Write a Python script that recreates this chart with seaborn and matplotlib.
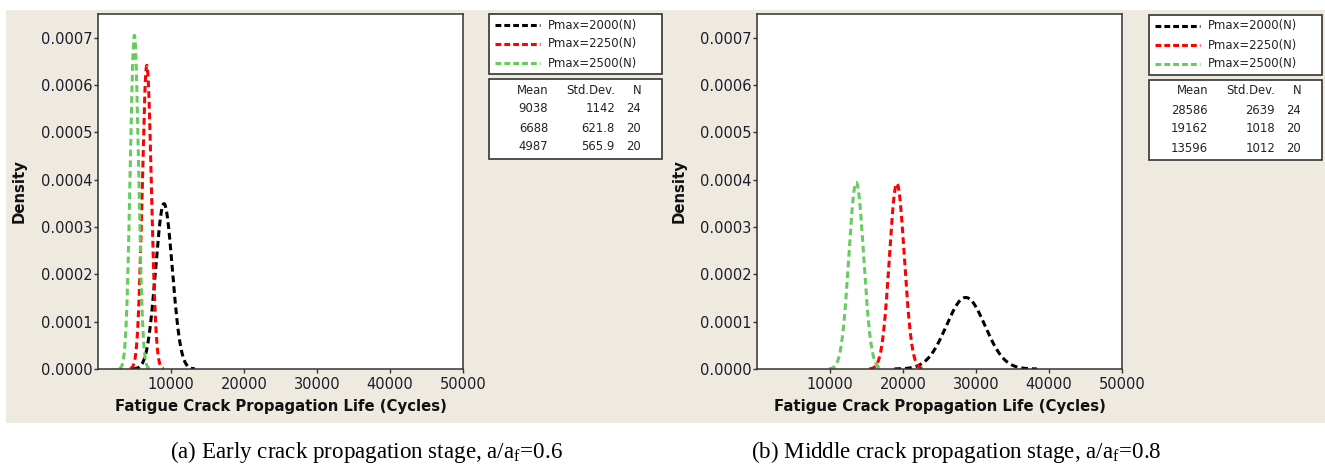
import numpy as np
import pandas as pd
import matplotlib
matplotlib.use("Agg")
import matplotlib.pyplot as plt
from matplotlib.patches import Rectangle
from matplotlib.lines import Line2D
import seaborn as sns

# 데이터
labels = ["Pmax=2000(N)", "Pmax=2250(N)", "Pmax=2500(N)"]
colors = ["#000000", "#ff0000", "#66cc5c"]

mean_a = [9038, 6688, 4987]
std_a = [1142, 621.8, 565.9]
n_a = [24, 20, 20]

mean_b = [28586, 19162, 13596]
std_b = [2639, 1018, 1012]
n_b = [24, 20, 20]

yticks = [0.0000, 0.0001, 0.0002, 0.0003, 0.0004, 0.0005, 0.0006, 0.0007]
xticks = [10000, 20000, 30000, 40000, 50000]

captions = ["(a) Early crack propagation stage, a/a$_{\\mathrm{f}}$=0.6",
            "(b) Middle crack propagation stage, a/a$_{\\mathrm{f}}$=0.8"]

sns.set_style("white")
plt.rcParams["font.family"] = ["DejaVu Sans"]
plt.rcParams["mathtext.fontset"] = "custom"
plt.rcParams["mathtext.rm"] = "Liberation Serif"

W, H = 1325, 467
fig = plt.figure(figsize=(W / 100, H / 100), dpi=100)
fig.patch.set_facecolor("white")


def fx(x):
    return x / W


def fy(y):
    return 1 - y / H


# 베이지 배경
fig.add_artist(Rectangle((fx(6), fy(423)), fx(1325) - fx(6), fy(10) - fy(423),
                         transform=fig.transFigure, facecolor="#eeeae0",
                         edgecolor="none", zorder=-1))


def normal_df(means, stds):
    # 정규분포 적합 곡선 (Minitab 스타일)
    rows = []
    for lab, m, s in zip(labels, means, stds):
        x = np.linspace(m - 3.7 * s, m + 3.7 * s, 200)
        d = np.exp(-0.5 * ((x - m) / s) ** 2) / (s * np.sqrt(2 * np.pi))
        rows.append(pd.DataFrame({"x": x, "density": d, "load": lab}))
    return pd.concat(rows, ignore_index=True)


def panel(left_px, means, stds, ns, legend_px, ylab_x, caption, cap_x):
    ax = fig.add_axes([fx(left_px), fy(369), 365 / W, 355 / H])
    ax.set_facecolor("white")
    df = normal_df(means, stds)
    sns.lineplot(data=df, x="x", y="density", hue="load", palette=colors,
                 ax=ax, legend=False, linewidth=2.2, sort=False)
    for ln in ax.get_lines():
        ln.set_dashes((2.2, 1.3))
    ax.set_xlim(0, 50000)
    ax.set_ylim(0, 0.00075)
    ax.set_xticks(xticks)
    ax.set_yticks(yticks)
    ax.set_yticklabels([f"{v:.4f}" for v in yticks])
    ax.tick_params(axis="both", which="both", direction="out", length=3,
                   width=1, color="#333333", labelsize=10.5,
                   labelcolor="#1c1c2c", left=True, bottom=True)
    ax.tick_params(axis="y", pad=1)
    ax.tick_params(axis="x", pad=3)
    for sp in ax.spines.values():
        sp.set_color("#333333")
        sp.set_linewidth(1.1)
    ax.set_xlabel("")
    ax.set_ylabel("")
    fig.text(fx((left_px + left_px + 365) / 2), fy(407),
             "Fatigue Crack Propagation Life (Cycles)", ha="center",
             va="center", fontsize=10.7, fontweight="bold", color="#111111")
    fig.text(fx(ylab_x), fy(191), "Density", rotation=90, ha="center",
             va="center", fontsize=10.7, fontweight="bold", color="#111111")

    # 범례 상자
    bx, by0, by1 = legend_px
    fig.add_artist(Rectangle((fx(bx), fy(by0 + 60)), 173 / W, 60 / H,
                             transform=fig.transFigure, facecolor="white",
                             edgecolor="#333333", linewidth=1.2, zorder=2))
    for i, (lab, c) in enumerate(zip(labels, colors)):
        yy = by0 + 11 + 19 * i
        fig.add_artist(Line2D([fx(bx + 6), fx(bx + 51)], [fy(yy), fy(yy)],
                              transform=fig.transFigure, color=c,
                              linewidth=2.2, dashes=(1.9, 1.0), zorder=3))
        fig.text(fx(bx + 59), fy(yy), lab, ha="left", va="center",
                 fontsize=8.4, color="#222222", zorder=3)

    # 통계 표
    fig.add_artist(Rectangle((fx(bx), fy(by1 + 80)), 173 / W, 80 / H,
                             transform=fig.transFigure, facecolor="white",
                             edgecolor="#333333", linewidth=1.2, zorder=2))
    cols = [59, 126, 152]
    ty = by1 + 11
    for cx, head in zip(cols, ["Mean", "Std.Dev.", "N"]):
        fig.text(fx(bx + cx), fy(ty), head, ha="right", va="center",
                 fontsize=8.4, color="#222222", zorder=3)
    for i, (m, s, n) in enumerate(zip(means, stds, ns)):
        yy = ty + 19 * (i + 1)
        for cx, val in zip(cols, [f"{m:g}", f"{s:g}", f"{n:g}"]):
            fig.text(fx(bx + cx), fy(yy), val, ha="right", va="center",
                     fontsize=8.4, color="#222222", zorder=3)

    fig.text(fx(cap_x), fy(452), caption, ha="center", va="center",
             fontsize=16.6, family="Liberation Serif", color="black")
    return ax


panel(98, mean_a, std_a, n_a, (489, 14, 79), 19, captions[0], 366)
panel(757, mean_b, std_b, n_b, (1149, 15, 80), 679, captions[1], 956)

fig.savefig("out.png", dpi=100)
